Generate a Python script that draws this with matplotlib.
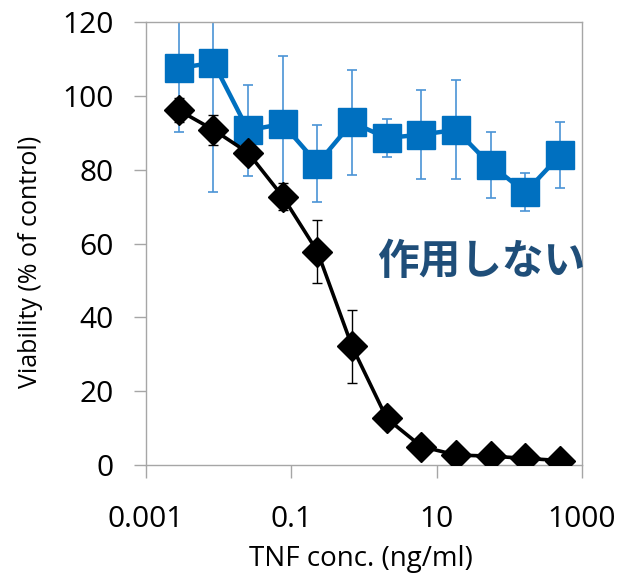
import matplotlib
matplotlib.use("Agg")
import matplotlib.pyplot as plt
from matplotlib.ticker import FixedLocator, FixedFormatter

# TNF concentration (ng/ml), 3-fold dilution series
conc = [0.00282, 0.00847, 0.0254, 0.0762, 0.229, 0.686, 2.06, 6.17, 18.5, 55.6, 166.7, 500]

# blue series ("作用しない")
blue_mean = [107.5, 109.0, 90.7, 92.4, 81.6, 92.8, 88.6, 89.5, 90.8, 81.2, 73.9, 83.9]
blue_err = [17.2, 35.0, 12.3, 18.3, 10.4, 14.3, 5.2, 12.1, 13.4, 9.0, 5.2, 8.9]

# black series
black_mean = [96.1, 90.8, 84.6, 72.7, 57.8, 32.1, 12.6, 5.0, 2.7, 2.4, 1.8, 1.2]
black_err = [3.3, 4.0, 2.0, 3.6, 8.6, 10.0, 2.5, 1.5, 1.0, 0.5, 0.5, 0.5]

xticks = [0.001, 0.1, 10, 1000]
xtick_labels = ["0.001", "0.1", "10", "1000"]
yticks = [0, 20, 40, 60, 80, 100, 120]

plt.rcParams['font.family'] = ['Open Sans', 'DejaVu Sans']

fig = plt.figure(figsize=(6.2, 5.8), dpi=100)
ax = fig.add_axes([0.2355, 0.1983, 0.7032, 0.7637])

grey = '#a6a6a6'

ax.errorbar(conc, blue_mean, yerr=blue_err, color='#0070c0', lw=3.2,
            marker='s', ms=20, mec='#0070c0', mfc='#0070c0',
            ecolor='#4a93d6', elinewidth=1.2, capsize=3.5, capthick=1.2, zorder=2)
ax.errorbar(conc, black_mean, yerr=black_err, color='black', lw=2.6,
            marker='D', ms=15.5, mec='black', mfc='black',
            ecolor='black', elinewidth=1.0, capsize=3.5, capthick=1.0, zorder=3)

ax.set_xscale('log')
ax.set_xlim(0.001, 1000)
ax.set_ylim(0, 120)

ax.xaxis.set_major_locator(FixedLocator(xticks))
ax.xaxis.set_major_formatter(FixedFormatter(xtick_labels))
ax.xaxis.set_minor_locator(FixedLocator([]))
ax.set_yticks(yticks)

for s in ax.spines.values():
    s.set_color(grey)
    s.set_linewidth(1.0)

ax.tick_params(axis='both', direction='out', length=9, width=1.0, color=grey,
               labelsize=21.5, labelcolor='black')
ax.tick_params(axis='y', pad=14)
ax.tick_params(axis='x', pad=20)

ax.set_xlabel("TNF conc. (ng/ml)", fontsize=20)
ax.set_ylabel("Viability (% of control)", fontsize=18)
ax.xaxis.set_label_coords(0.494, -0.18)
ax.yaxis.set_label_coords(-0.236, 0.458)

ax.text(0.768, 0.458, "作用しない", transform=ax.transAxes, ha='center', va='center',
        fontsize=30, fontweight='bold', color='#1f4e79',
        family=['Noto Sans CJK JP', 'DejaVu Sans'], zorder=5)

fig.savefig("out.png", dpi=100)
